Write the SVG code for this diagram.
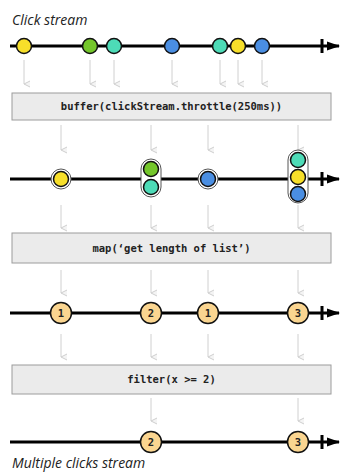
<svg xmlns="http://www.w3.org/2000/svg" width="342" height="473" viewBox="0 0 342 473">
<defs>
<marker id="ah" markerWidth="8" markerHeight="8" refX="4" refY="7" orient="auto" markerUnits="userSpaceOnUse" viewBox="0 0 8 8">
<path d="M1,1 L4,7 L7,1" fill="#f4f4f4" stroke="#cfcfcf" stroke-width="1"/>
</marker>
<marker id="th" markerWidth="13" markerHeight="10" refX="12" refY="5" orient="auto" markerUnits="userSpaceOnUse" viewBox="0 0 13 10">
<path d="M0,0.5 L13,5 L0,9.5 Z" fill="#000"/>
</marker>
</defs>
<style>
.lbl{font-family:"Open Sans","Liberation Sans",sans-serif;font-style:italic;font-size:14px;fill:#222}
.tl{stroke:#000;stroke-width:3;fill:none}
.tk{stroke:#000;stroke-width:3}
.c{stroke:#111;stroke-width:1.5}
.y{fill:#f7df2a}.g{fill:#74c62b}.t{fill:#4ddbb7}.b{fill:#4a8ee2}
.o{fill:#fad590;stroke:#111;stroke-width:1.5}
.num{font-family:"DejaVu Sans Mono","Liberation Mono",monospace;font-weight:bold;font-size:10.5px;fill:#222;text-anchor:middle}
.box{fill:#ebebeb;stroke:#9c9c9c;stroke-width:1}
.code{font-family:"DejaVu Sans Mono","Liberation Mono",monospace;font-weight:bold;font-size:10.5px;fill:#222;text-anchor:middle}
.ar{stroke:#d0d0d0;stroke-width:1;fill:none;marker-end:url(#ah)}
.cap{fill:#fff;stroke:#555;stroke-width:1}
</style>

<text class="lbl" x="12" y="25">Click stream</text>
<text class="lbl" x="12" y="468">Multiple clicks stream</text>

<g id="timelines">
<line class="tl" x1="10" y1="46" x2="339" y2="46" marker-end="url(#th)"/>
<line class="tk" x1="322" y1="39" x2="322" y2="53"/>
<line class="tl" x1="10" y1="179" x2="339" y2="179" marker-end="url(#th)"/>
<line class="tk" x1="322" y1="172" x2="322" y2="186"/>
<line class="tl" x1="10" y1="313" x2="339" y2="313" marker-end="url(#th)"/>
<line class="tk" x1="322" y1="306" x2="322" y2="320"/>
<line class="tl" x1="10" y1="442" x2="339" y2="442" marker-end="url(#th)"/>
<line class="tk" x1="322" y1="435" x2="322" y2="449"/>
</g>

<g id="connectors">
<line class="ar" x1="24" y1="60" x2="24" y2="84"/>
<line class="ar" x1="90" y1="60" x2="90" y2="84"/>
<line class="ar" x1="114" y1="60" x2="114" y2="84"/>
<line class="ar" x1="172" y1="60" x2="172" y2="84"/>
<line class="ar" x1="220" y1="60" x2="220" y2="84"/>
<line class="ar" x1="238" y1="60" x2="238" y2="84"/>
<line class="ar" x1="262" y1="60" x2="262" y2="84"/>

<line class="ar" x1="61" y1="125" x2="61" y2="150"/>
<line class="ar" x1="151" y1="125" x2="151" y2="150"/>
<line class="ar" x1="208" y1="125" x2="208" y2="150"/>
<line class="ar" x1="298" y1="125" x2="298" y2="150"/>

<line class="ar" x1="61" y1="205" x2="61" y2="228"/>
<line class="ar" x1="151" y1="205" x2="151" y2="228"/>
<line class="ar" x1="208" y1="205" x2="208" y2="228"/>
<line class="ar" x1="298" y1="205" x2="298" y2="228"/>

<line class="ar" x1="61" y1="270" x2="61" y2="293"/>
<line class="ar" x1="151" y1="270" x2="151" y2="293"/>
<line class="ar" x1="208" y1="270" x2="208" y2="293"/>
<line class="ar" x1="298" y1="270" x2="298" y2="293"/>

<line class="ar" x1="61" y1="334" x2="61" y2="357"/>
<line class="ar" x1="151" y1="334" x2="151" y2="357"/>
<line class="ar" x1="208" y1="334" x2="208" y2="357"/>
<line class="ar" x1="298" y1="334" x2="298" y2="357"/>

<line class="ar" x1="151" y1="398" x2="151" y2="421"/>
<line class="ar" x1="298" y1="398" x2="298" y2="421"/>
</g>

<g id="clicks">
<circle class="c y" cx="24" cy="46" r="7.5"/>
<circle class="c g" cx="90" cy="46" r="7.5"/>
<circle class="c t" cx="114" cy="46" r="7.5"/>
<circle class="c b" cx="172" cy="46" r="7.5"/>
<circle class="c t" cx="220" cy="46" r="7.5"/>
<circle class="c y" cx="238" cy="46" r="7.5"/>
<circle class="c b" cx="262" cy="46" r="7.5"/>
</g>

<g id="op-buffer">
<rect class="box" x="12" y="93" width="319" height="27"/>
<text class="code" x="171.5" y="110">buffer(clickStream.throttle(250ms))</text>
</g>

<g id="buffered">
<circle class="cap" cx="61" cy="179" r="10"/>
<circle class="c y" cx="61" cy="179" r="7.5"/>
<rect class="cap" x="141" y="159" width="20" height="38" rx="10"/>
<circle class="c g" cx="151" cy="169" r="7.5"/>
<circle class="c t" cx="151" cy="187" r="7.5"/>
<circle class="cap" cx="208" cy="179" r="10"/>
<circle class="c b" cx="208" cy="179" r="7.5"/>
<rect class="cap" x="288" y="150" width="20" height="53" rx="10"/>
<circle class="c t" cx="298" cy="160" r="7.5"/>
<circle class="c y" cx="298" cy="177" r="7.5"/>
<circle class="c b" cx="298" cy="194" r="7.5"/>
</g>

<g id="op-map">
<rect class="box" x="12" y="233" width="319" height="30"/>
<text class="code" x="171.5" y="252">map(‘get length of list’)</text>
</g>

<g id="lengths">
<circle class="o" cx="61" cy="313" r="10.5"/><text class="num" x="61" y="316.5">1</text>
<circle class="o" cx="151" cy="313" r="10.5"/><text class="num" x="151" y="316.5">2</text>
<circle class="o" cx="208" cy="313" r="10.5"/><text class="num" x="208" y="316.5">1</text>
<circle class="o" cx="298" cy="313" r="10.5"/><text class="num" x="298" y="316.5">3</text>
</g>

<g id="op-filter">
<rect class="box" x="12" y="365" width="319" height="29"/>
<text class="code" x="171.5" y="383">filter(x &gt;= 2)</text>
</g>

<g id="filtered">
<circle class="o" cx="151" cy="442" r="10.5"/><text class="num" x="151" y="445.5">2</text>
<circle class="o" cx="298" cy="442" r="10.5"/><text class="num" x="298" y="445.5">3</text>
</g>
</svg>
